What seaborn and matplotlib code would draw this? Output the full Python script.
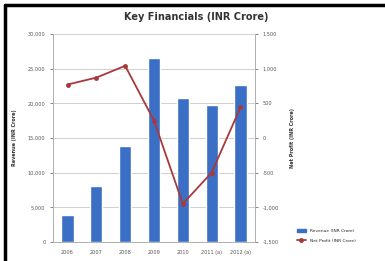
import matplotlib
matplotlib.use("Agg")
import matplotlib.pyplot as plt
import seaborn as sns
import pandas as pd
from matplotlib.ticker import FuncFormatter, MultipleLocator
from matplotlib.lines import Line2D
from matplotlib.patches import Patch

years = ["2006", "2007", "2008", "2009", "2010", "2011 (a)", "2012 (a)"]
revenue = [3900, 8000, 13900, 26500, 20700, 19800, 22600]
net_profit = [770, 870, 1040, 250, -950, -500, 440]

df = pd.DataFrame({"Year": years, "Revenue": revenue, "NetProfit": net_profit})

sns.set_style("white")
plt.rcParams["font.family"] = ["DejaVu Sans"]

fig = plt.figure(figsize=(3.85, 2.61), dpi=100)
ax = fig.add_axes([0.138, 0.073, 0.524, 0.797])

bar_col = "#3b6fc6"
line_col = "#a8393b"
grid_col = "#c8c8c8"
tick_col = "#555555"

sns.barplot(data=df, x="Year", y="Revenue", color=bar_col, width=0.42,
            saturation=1, ax=ax, zorder=2)
ax.set_ylim(0, 30000)
ax.yaxis.set_major_locator(MultipleLocator(5000))
ax.yaxis.set_major_formatter(FuncFormatter(lambda v, p: f"{int(v):,}"))
ax.grid(axis="y", color=grid_col, linewidth=0.6, zorder=0)
ax.set_axisbelow(True)
ax.set_xlabel("")
ax.set_ylabel("Revenue (INR Crore)", fontsize=3.5, fontweight="bold", color="#333333", labelpad=8)
ax.tick_params(axis="both", labelsize=3.6, colors=tick_col, length=2, width=0.5)

ax2 = ax.twinx()
sns.pointplot(data=df, x="Year", y="NetProfit", color=line_col, ax=ax2,
              markers="o", markersize=2.5, linewidth=1.3)
ax2.set_ylim(-1500, 1500)
ax2.yaxis.set_major_locator(MultipleLocator(500))
ax2.yaxis.set_major_formatter(FuncFormatter(lambda v, p: f"{int(v):,}"))
ax2.set_ylabel("Net Profit (INR Crore)", fontsize=3.5, fontweight="bold", color="#333333", labelpad=8)
ax2.tick_params(axis="y", labelsize=3.6, colors=tick_col, length=2, width=0.5)
ax2.set_xlim(-0.5, len(years) - 0.5)
ax.set_xlim(-0.5, len(years) - 0.5)

for a in (ax, ax2):
    for s in a.spines.values():
        s.set_color("#b0b0b0")
        s.set_linewidth(0.6)
    a.spines["top"].set_visible(False)

fig.suptitle("Key Financials (INR Crore)", x=0.51, y=0.955, fontsize=7, fontweight="bold", color="#333333")

handles = [Patch(facecolor=bar_col, edgecolor=bar_col),
           Line2D([0], [0], color=line_col, marker="o", markersize=2.5, linewidth=1.3)]
fig.legend(handles, ["Revenue (INR Crore)", "Net Profit (INR Crore)"],
           loc="lower left", bbox_to_anchor=(0.76, 0.055), frameon=False,
           fontsize=3.2, handlelength=2.2, labelspacing=1.3)

# page border at top/left
fig.add_artist(Line2D([0.013, 0.013], [0, 0.98], transform=fig.transFigure, color="black", linewidth=2.5))
fig.add_artist(Line2D([0.013, 1.0], [0.98, 0.98], transform=fig.transFigure, color="black", linewidth=2.5))

fig.savefig("out.png", dpi=100)
